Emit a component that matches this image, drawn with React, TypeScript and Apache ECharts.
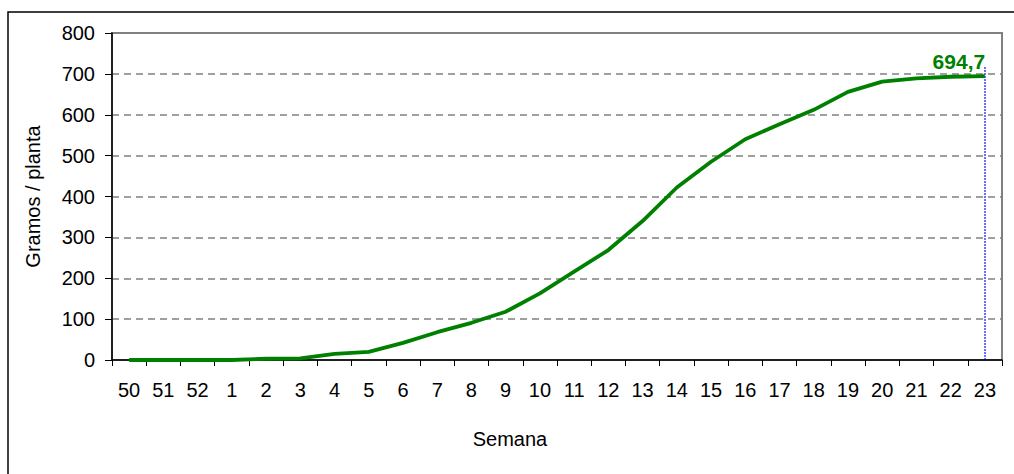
import React, { useEffect, useRef } from "react";
import * as echarts from "echarts";

const weeks = ["50", "51", "52", "1", "2", "3", "4", "5", "6", "7", "8", "9", "10", "11", "12", "13", "14", "15", "16", "17", "18", "19", "20", "21", "22", "23"];
const grams = [0, 0, 0, 0, 3, 4, 15, 20, 42, 68, 91, 118, 163, 216, 269, 340, 422, 485, 540, 577, 612, 656, 681, 689, 693, 694.7];
const yTicks = { min: 0, max: 800, interval: 100 };
const lastLabel = "694,7";
const xTitle = "Semana";
const yTitle = "Gramos / planta";
const dropTop = 716;

export default function App() {
  const ref = useRef<HTMLDivElement>(null);
  useEffect(() => {
    if (!ref.current) return;
    const chart = echarts.init(ref.current, null, { renderer: "svg" });
    const font = "Liberation Sans, Arial, sans-serif";
    const lastIdx = grams.length - 1;
    chart.setOption({
      animation: false,
      backgroundColor: "#ffffff",
      textStyle: { fontFamily: font },
      grid: {
        left: 112,
        top: 33,
        right: 12,
        bottom: 114,
        show: true,
        borderColor: "#808080",
        borderWidth: 2,
        backgroundColor: "#ffffff",
      },
      graphic: [
        {
          type: "rect",
          shape: { x: 8, y: 12, width: 1200, height: 600 },
          style: { fill: "none", stroke: "#000000", lineWidth: 1.5 },
          z: 100,
          silent: true,
        },
        {
          type: "text",
          x: 510,
          y: 439,
          style: {
            text: xTitle,
            align: "center",
            verticalAlign: "middle",
            fontSize: 20,
            fontFamily: font,
            fill: "#000",
          },
          silent: true,
        },
      ],
      xAxis: {
        type: "category",
        data: weeks,
        boundaryGap: true,
        axisLine: { show: true, lineStyle: { color: "#000", width: 1.5 } },
        axisTick: { show: true, length: 6, lineStyle: { color: "#000", width: 1 }, alignWithLabel: false },
        axisLabel: { fontSize: 20, color: "#000", margin: 20, interval: 0, fontFamily: font },
        splitLine: { show: false },
      },
      yAxis: {
        type: "value",
        min: yTicks.min,
        max: yTicks.max,
        interval: yTicks.interval,
        name: yTitle,
        nameLocation: "middle",
        nameGap: 69,
        nameTextStyle: { fontSize: 20, color: "#000", fontFamily: font },
        axisLine: { show: true, lineStyle: { color: "#000", width: 1.5 } },
        axisTick: { show: true, length: 7, inside: false, lineStyle: { color: "#000", width: 1 } },
        axisLabel: { fontSize: 20, color: "#000", margin: 17, fontFamily: font },
        splitLine: { show: true, lineStyle: { color: "#808080", type: [7, 5], width: 1.5 } },
      },
      series: [
        {
          type: "line",
          data: grams,
          symbol: "none",
          lineStyle: { color: "#008000", width: 3.8 },
          itemStyle: { color: "#008000" },
          z: 5,
          markPoint: {
            silent: true,
            symbol: "circle",
            symbolSize: 1,
            itemStyle: { color: "rgba(0,0,0,0)" },
            label: {
              show: true,
              position: "top",
              offset: [-26, 1],
              formatter: lastLabel,
              color: "#008000",
              fontWeight: "bold",
              fontSize: 21,
              fontFamily: font,
            },
            data: [{ coord: [weeks[lastIdx], grams[lastIdx]] }],
          },
          markLine: {
            silent: true,
            symbol: ["none", "none"],
            label: { show: false },
            lineStyle: { color: "#0000ff", type: "dotted", width: 1.5 },
            data: [[{ coord: [weeks[lastIdx], dropTop] }, { coord: [weeks[lastIdx], 0] }]],
          },
        },
      ],
    });
    return () => chart.dispose();
  }, []);
  return (
    <div
      ref={ref}
      style={{ position: "fixed", left: 0, top: 0, width: 1014, height: 474 }}
    />
  );
}
